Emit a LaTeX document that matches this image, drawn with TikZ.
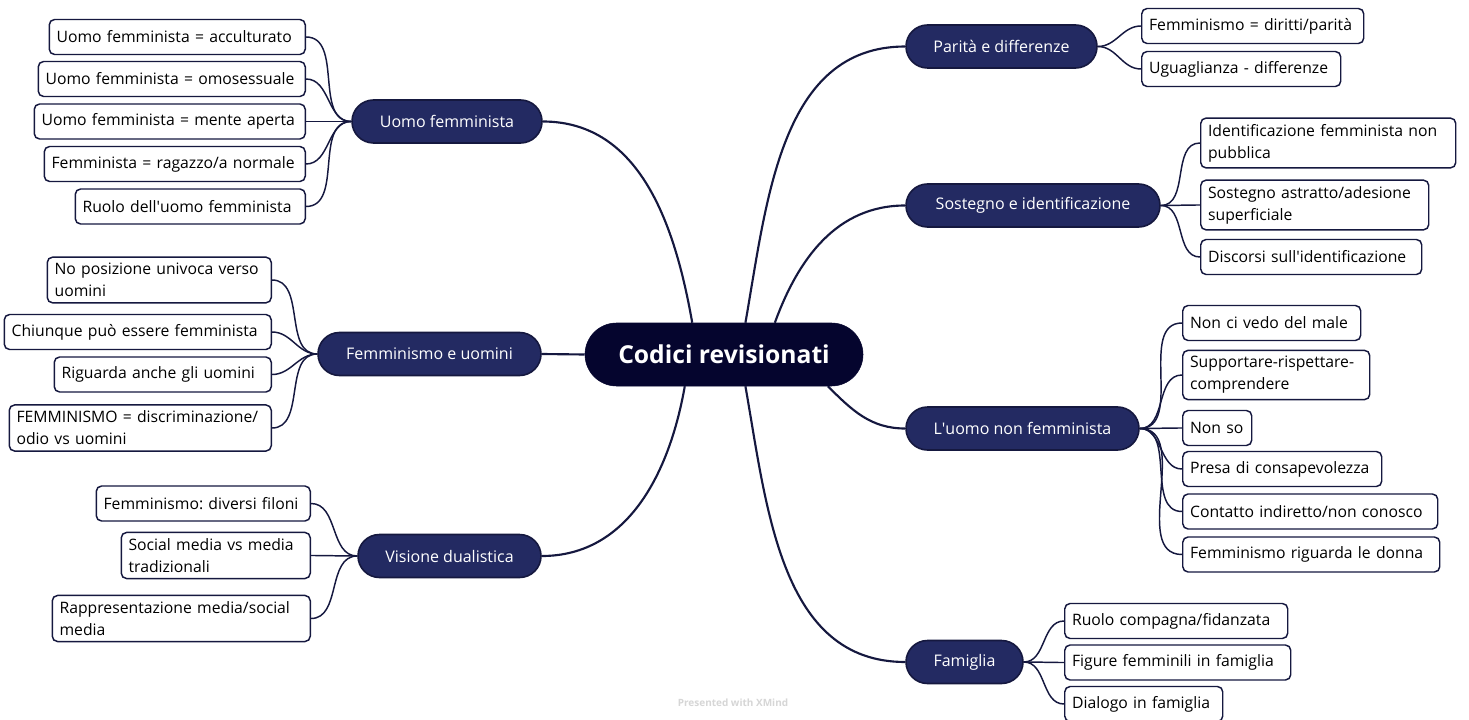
\documentclass[tikz,border=0pt]{standalone}
\usepackage{fontspec}
\setmainfont{Open Sans}
\usetikzlibrary{shapes.misc,backgrounds}
\definecolor{branchfill}{HTML}{232A62}
\definecolor{inkline}{HTML}{15183F}
\definecolor{corefill}{HTML}{05052E}
\frenchspacing

\begin{document}
\begin{tikzpicture}[x=0.75pt,y=-0.75pt,
  core/.style={rounded rectangle, fill=corefill, draw=corefill, text=white,
    font=\bfseries\fontsize{18.5}{22}\selectfont,
    minimum width=208.5pt, minimum height=47.25pt, inner sep=0pt},
  branch/.style={rounded rectangle, fill=branchfill, draw=inkline, line width=1.2pt,
    text=white, font=\fontsize{12}{14}\selectfont,
    minimum height=32.25pt, inner sep=0pt},
  leaf/.style={rectangle, rounded corners=4pt, fill=white, draw=inkline, line width=1.1pt,
    align=left, font=\fontsize{11.8}{16.5}\selectfont,
    inner xsep=5.5pt, inner ysep=4.5pt, minimum height=26.25pt},
  trunk/.style={draw=inkline, line width=1.6pt},
  twig/.style={draw=inkline, line width=1.1pt},
]
\useasboundingbox (0,0) rectangle (1469,720);

% central topic
\node[core] (c) at (724,354.5) {Codici revisionati};

% main topics
\node[branch, minimum width=142.5pt] (uf) at (447,121.5) {Uomo femminista};
\node[branch, minimum width=167.25pt] (fu) at (429.5,354) {Femminismo e uomini};
\node[branch, minimum width=137.25pt] (vd) at (449.5,556) {Visione dualistica};
\node[branch, minimum width=143.25pt] (pd) at (1001.5,46.5) {Parità e differenze};
\node[branch, minimum width=190.5pt] (si) at (1033,205.5) {Sostegno e identificazione};
\node[branch, minimum width=174.75pt] (un) at (1022.5,428.5) {L\textquotesingle uomo non femminista};
\node[branch, minimum width=87.75pt] (fa) at (964.5,662) {Famiglia};

% subtopics, left side (right edges aligned)
\node[leaf, anchor=east, text width=181pt] (uf1) at (306,37) {Uomo femminista = acculturato};
\node[leaf, anchor=east, text width=189.25pt] (uf2) at (306,79) {Uomo femminista = omosessuale};
\node[leaf, anchor=east, text width=192.25pt] (uf3) at (306,121.5) {Uomo femminista = mente aperta};
\node[leaf, anchor=east, text width=184.75pt] (uf4) at (306,164) {Femminista = ragazzo/a normale};
\node[leaf, anchor=east, text width=161.5pt] (uf5) at (306,206.5) {Ruolo dell\textquotesingle uomo femminista};

\node[leaf, anchor=east, text width=157pt] (fu1) at (272,280) {No posizione univoca verso\\uomini};
\node[leaf, anchor=east, text width=189.25pt] (fu2) at (272,332) {Chiunque può essere femminista};
\node[leaf, anchor=east, text width=151.75pt] (fu3) at (272,374.5) {Riguarda anche gli uomini};
\node[leaf, anchor=east, text width=185.5pt] (fu4) at (272,428) {FEMMINISMO = discriminazione/\\odio vs uomini};

\node[leaf, anchor=east, text width=149.5pt] (vd1) at (311,503.5) {Femminismo: diversi filoni};
\node[leaf, anchor=east, text width=130.75pt] (vd2) at (311,555.5) {Social media vs media\\tradizionali};
\node[leaf, anchor=east, text width=182.5pt] (vd3) at (311,618.5) {Rappresentazione media/social\\media};

% subtopics, right side (left edges aligned)
\node[leaf, anchor=west, text width=155.5pt] (pd1) at (1141,26) {Femminismo = diritti/parità};
\node[leaf, anchor=west, text width=138.25pt] (pd2) at (1141,69) {Uguaglianza - differenze};

\node[leaf, anchor=west, text width=180.25pt] (si1) at (1200,143) {Identificazione femminista non\\pubblica};
\node[leaf, anchor=west, text width=160pt] (si2) at (1200,205) {Sostegno astratto/adesione\\superficiale};
\node[leaf, anchor=west, text width=154.75pt] (si3) at (1200,257) {Discorsi sull\textquotesingle identificazione};

\node[leaf, anchor=west, text width=122.5pt] (un1) at (1182,323) {Non ci vedo del male};
\node[leaf, anchor=west, text width=129.25pt] (un2) at (1182,375) {Supportare-rispettare-\\comprendere};
\node[leaf, anchor=west, text width=40.75pt] (un3) at (1182,428) {Non so};
\node[leaf, anchor=west, text width=138.25pt] (un4) at (1182,469) {Presa di consapevolezza};
\node[leaf, anchor=west, text width=180.25pt] (un5) at (1182,511.5) {Contatto indiretto/non conosco};
\node[leaf, anchor=west, text width=181.75pt] (un6) at (1182,554.5) {Femminismo riguarda le donna};

\node[leaf, anchor=west, text width=156.25pt] (fa1) at (1064,621) {Ruolo compagna/fidanzata};
\node[leaf, anchor=west, text width=158.5pt] (fa2) at (1064,662.5) {Figure femminili in famiglia};
\node[leaf, anchor=west, text width=107.5pt] (fa3) at (1064,704) {Dialogo in famiglia};

% footer mark
\node[text=black!16, font=\bfseries\fontsize{7.5}{9}\selectfont] (mark) at (733,703) {Presented with XMind};

\begin{scope}[on background layer]
  \fill[white] (0,0) rectangle (1469,720);
  % central topic to main topics
  \draw[trunk] (c.135) to[out=100,in=0] (uf.east);
  \draw[trunk] (c.west) -- (fu.east);
  \draw[trunk] (c.-141) to[out=-100,in=0] (vd.east);
  \draw[trunk] (c.56) to[out=80,in=180] (pd.west);
  \draw[trunk] (c.32) to[out=70,in=180] (si.west);
  \draw[trunk] (c.-17) to[out=-45,in=180] (un.west);
  \draw[trunk] (c.-56) to[out=-80,in=180] (fa.west);
  % main topics to subtopics
  \foreach \k in {uf1,uf2,uf3,uf4,uf5} \draw[twig] (uf.west) to[out=180,in=0] (\k.east);
  \foreach \k in {fu1,fu2,fu3,fu4} \draw[twig] (fu.west) to[out=180,in=0] (\k.east);
  \foreach \k in {vd1,vd2,vd3} \draw[twig] (vd.west) to[out=180,in=0] (\k.east);
  \foreach \k in {pd1,pd2} \draw[twig] (pd.east) to[out=0,in=180] (\k.west);
  \foreach \k in {si1,si2,si3} \draw[twig] (si.east) to[out=0,in=180] (\k.west);
  \foreach \k in {un1,un2,un3,un4,un5,un6} \draw[twig] (un.east) to[out=0,in=180] (\k.west);
  \foreach \k in {fa1,fa2,fa3} \draw[twig] (fa.east) to[out=0,in=180] (\k.west);
\end{scope}
\end{tikzpicture}
\end{document}
